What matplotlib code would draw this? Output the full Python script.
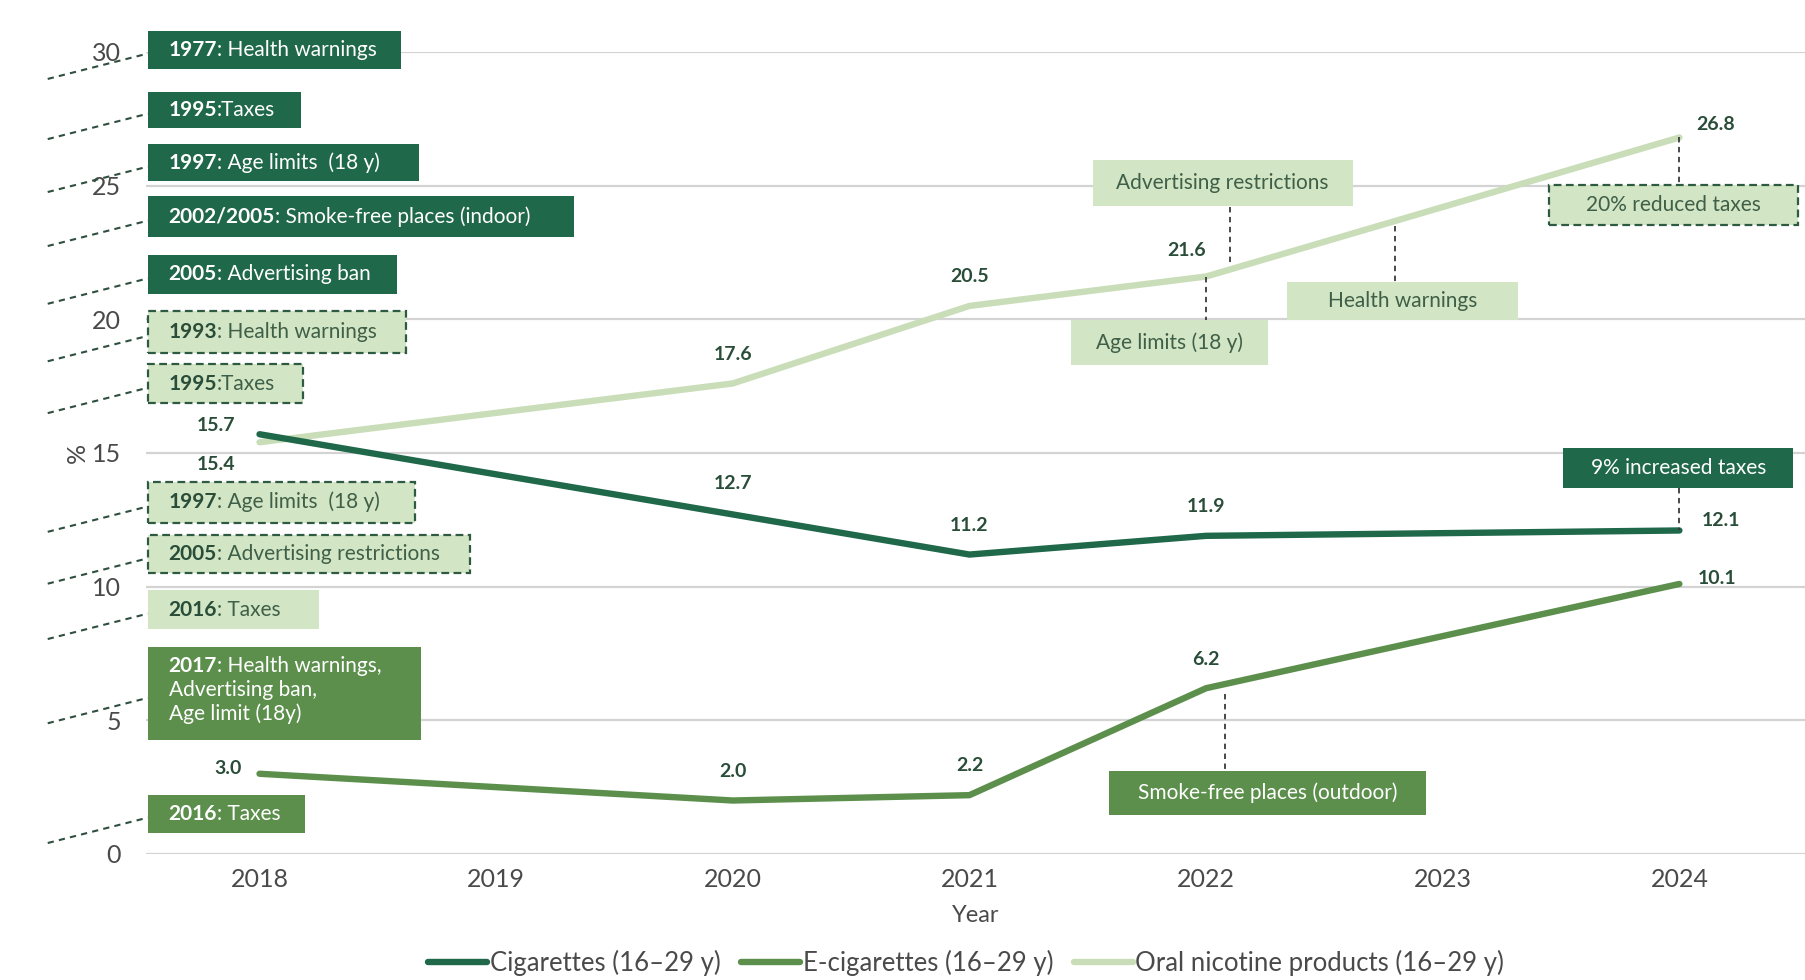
import matplotlib
matplotlib.use('Agg')
from matplotlib import pyplot as plt
from matplotlib.patches import Rectangle

plt.rcParams['font.family'] = ['Lato', 'DejaVu Sans']

# prevalence among 16-29 year olds (%)
years = [2018, 2020, 2021, 2022, 2024]
cigarettes = [15.7, 12.7, 11.2, 11.9, 12.1]
ecigarettes = [3.0, 2.0, 2.2, 6.2, 10.1]
oral_nicotine = [15.4, 17.6, 20.5, 21.6, 26.8]
series_names = ['Cigarettes (16–29 y)', 'E-cigarettes (16–29 y)', 'Oral nicotine products (16–29 y)']

# label offsets (points) for each value label
cig_offsets = [(-31, 6), (0, 22), (0, 21), (0, 21), (30, 7)]
ecig_offsets = [(-23, 4), (0, 21), (0, 21), (0, 21), (27, 4)]
oral_offsets = [(-31, -16), (0, 21), (0, 21), (-14, 19), (26, 9)]

DARK = '#1f684a'
MID = '#5c8f4c'
LIGHT = '#c9deb8'
LIGHT_BOX = '#d2e5c4'
TXT_DARK = '#2a4d39'

# policy boxes on the left: (bold, rest, y centre, right edge, height, style)
left_boxes = [
    ('1977', ': Health warnings', 30.09, 2018.598, 1.42, 'dark'),
    ('1995', ':Taxes', 27.84, 2018.175, 1.34, 'dark'),
    ('1997', ': Age limits  (18 y)', 25.86, 2018.676, 1.38, 'dark'),
    ('2002/2005', ': Smoke-free places (indoor)', 23.84, 2019.327, 1.55, 'dark'),
    ('2005', ': Advertising ban', 21.68, 2018.583, 1.47, 'dark'),
    ('1993', ': Health warnings', 19.53, 2018.617, 1.55, 'dashed'),
    ('1995', ':Taxes', 17.59, 2018.185, 1.47, 'dashed'),
    ('1997', ': Age limits  (18 y)', 13.15, 2018.656, 1.55, 'dashed'),
    ('2005', ': Advertising restrictions', 11.21, 2018.890, 1.42, 'dashed'),
    ('2016', ': Taxes', 9.14, 2018.253, 1.47, 'light'),
    ('2017', ': Health warnings,', 5.99, 2018.681, 3.49, 'mid'),
    ('2016', ': Taxes', 1.51, 2018.194, 1.42, 'mid'),
]
extra_lines_2017 = 'Advertising ban,\nAge limit (18y)'

# recent measures: (text, x left, x right, y centre, height, style, leader x, leader y0, leader y1)
right_boxes = [
    ('Advertising restrictions', 2021.52, 2022.62, 25.09, 1.72, 'light', 2022.10, 24.2, 22.1),
    ('Age limits (18 y)', 2021.43, 2022.26, 19.14, 1.68, 'light', 2022.0, 21.6, 19.98),
    ('Health warnings', 2022.34, 2023.32, 20.69, 1.42, 'light', 2022.80, 23.5, 21.4),
    ('20% reduced taxes', 2023.45, 2024.50, 24.27, 1.51, 'dashed', 2024.0, 26.8, 25.02),
    ('9% increased taxes', 2023.51, 2024.48, 14.44, 1.47, 'dark', 2024.0, 13.7, 12.1),
    ('Smoke-free places (outdoor)', 2021.59, 2022.93, 2.28, 1.68, 'mid', 2022.08, 6.0, 3.12),
]

styles = {
    'dark': dict(fc=DARK, ec='none', ls='-', tc='white'),
    'mid': dict(fc=MID, ec='none', ls='-', tc='white'),
    'light': dict(fc=LIGHT_BOX, ec='none', ls='-', tc='#3f5f48'),
    'dashed': dict(fc=LIGHT_BOX, ec='#2f5a42', ls=(0, (3.5, 2)), tc='#3f5f48'),
}

fig = plt.figure(figsize=(18.06, 9.8), dpi=100)
ax = fig.add_axes([0.0808, 0.1286, 0.9192, 0.8184])
ax.set_xlim(2017.52, 2024.535)
ax.set_ylim(0, 30)

for s in ax.spines.values():
    s.set_visible(False)
ax.set_yticks([0, 5, 10, 15, 20, 25, 30])
ax.set_xticks(range(2018, 2025))
ax.grid(axis='y', color='#d3d3d3', lw=1.6)
ax.set_axisbelow(True)
ax.tick_params(length=0, labelsize=18, labelcolor='#4a4a4a')
ax.tick_params(axis='y', pad=18)
ax.tick_params(axis='x', pad=10)
ax.set_xlabel('Year', fontsize=17, color='#4a4a4a', labelpad=10)
ax.set_ylabel('%', fontsize=18, color='#4a4a4a', labelpad=2)

lc = ax.plot(years, oral_nicotine, color=LIGHT, lw=4.6, solid_capstyle='round', zorder=3)[0]
le = ax.plot(years, ecigarettes, color=MID, lw=4.6, solid_capstyle='round', zorder=4)[0]
lk = ax.plot(years, cigarettes, color=DARK, lw=4.6, solid_capstyle='round', zorder=5)[0]

for vals, offs in [(cigarettes, cig_offsets), (ecigarettes, ecig_offsets), (oral_nicotine, oral_offsets)]:
    for x, v, o in zip(years, vals, offs):
        ax.annotate(f'{v:.1f}', (x, v), xytext=o, textcoords='offset points',
                    ha='center', va='center', fontsize=14, fontweight='bold', color=TXT_DARK)


def draw_box(x0, x1, yc, h, style):
    st = styles[style]
    ax.add_patch(Rectangle((x0, yc - h / 2), x1 - x0, h, facecolor=st['fc'], edgecolor=st['ec'],
                           linestyle=st['ls'], lw=1.6, clip_on=False, zorder=6))
    return st['tc']


x_left = 2017.528
for bold, rest, yc, x1, h, style in left_boxes:
    tc = draw_box(x_left, x1, yc, h, style)
    ty = yc + 1.05 if bold == '2017' else yc
    b = ax.annotate(bold, (x_left, ty), xytext=(15, 0), textcoords='offset points', va='center',
                    fontsize=15, fontweight='bold', color=tc if style in ('dark', 'mid') else TXT_DARK,
                    annotation_clip=False, zorder=7)
    ax.annotate(rest, xy=(1, 0), xycoords=b, va='bottom', ha='left', fontsize=15, color=tc,
                annotation_clip=False, zorder=7)
    if bold == '2017':
        ax.annotate(extra_lines_2017, xy=(0, 0), xycoords=b, xytext=(0, -3),
                    textcoords='offset points', va='top', ha='left', fontsize=15,
                    color=tc, linespacing=1.2, zorder=7)
    # leader line out to the left margin
    ax.plot([2017.105, x_left], [yc - 1.1, yc - 0.15], color='#2f4f3f', lw=1.5, ls=(0, (3, 2.5)),
            clip_on=False, zorder=6)

for text, x0, x1, yc, h, style, lx, ly0, ly1 in right_boxes:
    tc = draw_box(x0, x1, yc, h, style)
    ax.text((x0 + x1) / 2, yc, text, ha='center', va='center', fontsize=15, color=tc, zorder=7)
    ax.plot([lx, lx], [ly0, ly1], color='#3a3a3a', lw=1.3, ls=(0, (3, 2.5)), zorder=6)

fig.legend([lk, le, lc], series_names, loc='center', bbox_to_anchor=(0.535, 0.017), ncol=3,
           frameon=False, fontsize=18.5, handlelength=2.3, handletextpad=0.1, columnspacing=0.8,
           labelcolor='#4a4a4a')

fig.savefig('out.png', dpi=100, facecolor='white')
